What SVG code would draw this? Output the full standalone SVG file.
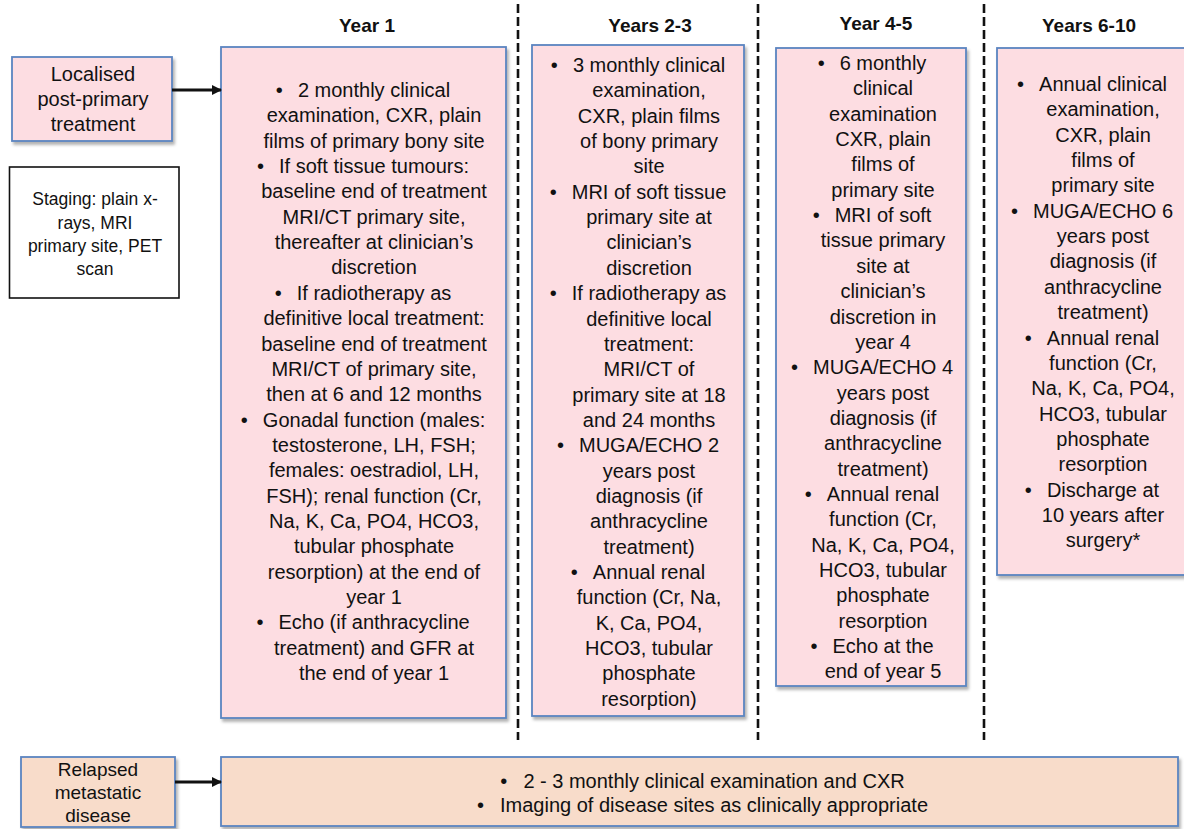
<svg xmlns="http://www.w3.org/2000/svg" width="1184" height="829" viewBox="0 0 1184 829">
<defs>
<style>
.t{font-family:"Liberation Sans",Arial,sans-serif;font-size:20px;fill:#111;text-anchor:middle}
.h{font-family:"Liberation Sans",Arial,sans-serif;font-size:19px;font-weight:bold;fill:#111;text-anchor:middle}
.s{font-family:"Liberation Sans",Arial,sans-serif;font-size:17.5px;fill:#111;text-anchor:middle}
.r{font-family:"Liberation Sans",Arial,sans-serif;font-size:19px;fill:#111;text-anchor:middle}
.pink{fill:#FDDDE2;stroke:#5B84C0;stroke-width:1.8;filter:url(#sh)}
.peach{fill:#F8DCCA;stroke:#5B84C0;stroke-width:1.8;filter:url(#sh)}
.dash{stroke:#111;stroke-width:2.6;stroke-dasharray:9 4;fill:none}
.arr{stroke:#111;stroke-width:3;fill:none;marker-end:url(#ah)}
</style>
<filter id="sh" x="-5%" y="-5%" width="115%" height="115%">
<feDropShadow dx="2" dy="3" stdDeviation="1.8" flood-color="#000" flood-opacity="0.3"/>
</filter>
<marker id="ah" viewBox="0 0 10 10" refX="9" refY="5" markerWidth="3.6" markerHeight="3.4" orient="auto" markerUnits="strokeWidth">
<path d="M0,0 L10,5 L0,10 Z" fill="#111"/>
</marker>
</defs>

<g id="dividers">
<line class="dash" x1="518" y1="4" x2="518" y2="740"/>
<line class="dash" x1="758" y1="4" x2="758" y2="740"/>
<line class="dash" x1="984" y1="4" x2="984" y2="740"/>
</g>

<g id="headings">
<text class="h" x="367" y="32">Year 1</text>
<text class="h" x="650" y="32">Years 2-3</text>
<text class="h" x="876" y="30">Year 4-5</text>
<text class="h" x="1089" y="32">Years 6-10</text>
</g>

<g id="localised">
<rect class="pink" x="12" y="57" width="160" height="84"/>
<text class="t"><tspan x="93" y="81">Localised</tspan><tspan x="93" y="106">post-primary</tspan><tspan x="93" y="131">treatment</tspan></text>
</g>

<g id="staging">
<rect x="9.5" y="167" width="169.5" height="131" fill="#fff" stroke="#111" stroke-width="1.6"/>
<text class="s"><tspan x="95" y="205">Staging: plain x-</tspan><tspan x="95" y="229">rays, MRI</tspan><tspan x="95" y="252">primary site, PET</tspan><tspan x="95" y="275">scan</tspan></text>
</g>

<g id="year1">
<rect class="pink" x="221" y="47" width="285" height="671"/>
<text class="t"><tspan x="374" y="97">•<tspan dx="15">2 monthly clinical</tspan><tspan dx="16.4">&#160;</tspan></tspan
><tspan x="374" dy="25.35">examination, CXR, plain</tspan
><tspan x="374" dy="25.35">films of primary bony site</tspan
><tspan x="374" dy="25.35">•<tspan dx="15">If soft tissue tumours:</tspan><tspan dx="16.4">&#160;</tspan></tspan
><tspan x="374" dy="25.35">baseline end of treatment</tspan
><tspan x="374" dy="25.35">MRI/CT primary site,</tspan
><tspan x="374" dy="25.35">thereafter at clinician’s</tspan
><tspan x="374" dy="25.35">discretion</tspan
><tspan x="374" dy="25.35">•<tspan dx="15">If radiotherapy as</tspan><tspan dx="16.4">&#160;</tspan></tspan
><tspan x="374" dy="25.35">definitive local treatment:</tspan
><tspan x="374" dy="25.35">baseline end of treatment</tspan
><tspan x="374" dy="25.35">MRI/CT of primary site,</tspan
><tspan x="374" dy="25.35">then at 6 and 12 months</tspan
><tspan x="374" dy="25.35">•<tspan dx="15">Gonadal function (males:</tspan><tspan dx="16.4">&#160;</tspan></tspan
><tspan x="374" dy="25.35">testosterone, LH, FSH;</tspan
><tspan x="374" dy="25.35">females: oestradiol, LH,</tspan
><tspan x="374" dy="25.35">FSH); renal function (Cr,</tspan
><tspan x="374" dy="25.35">Na, K, Ca, PO4, HCO3,</tspan
><tspan x="374" dy="25.35">tubular phosphate</tspan
><tspan x="374" dy="25.35">resorption) at the end of</tspan
><tspan x="374" dy="25.35">year 1</tspan
><tspan x="374" dy="25.35">•<tspan dx="15">Echo (if anthracycline</tspan><tspan dx="16.4">&#160;</tspan></tspan
><tspan x="374" dy="25.35">treatment) and GFR at</tspan
><tspan x="374" dy="25.35">the end of year 1</tspan></text>
</g>

<g id="years2-3">
<rect class="pink" x="532" y="45" width="212" height="671"/>
<text class="t"><tspan x="649" y="72">•<tspan dx="15">3 monthly clinical</tspan><tspan dx="16.4">&#160;</tspan></tspan
><tspan x="649" dy="25.35">examination,</tspan
><tspan x="649" dy="25.35">CXR, plain films</tspan
><tspan x="649" dy="25.35">of bony primary</tspan
><tspan x="649" dy="25.35">site</tspan
><tspan x="649" dy="25.35">•<tspan dx="15">MRI of soft tissue</tspan><tspan dx="16.4">&#160;</tspan></tspan
><tspan x="649" dy="25.35">primary site at</tspan
><tspan x="649" dy="25.35">clinician’s</tspan
><tspan x="649" dy="25.35">discretion</tspan
><tspan x="649" dy="25.35">•<tspan dx="15">If radiotherapy as</tspan><tspan dx="16.4">&#160;</tspan></tspan
><tspan x="649" dy="25.35">definitive local</tspan
><tspan x="649" dy="25.35">treatment:</tspan
><tspan x="649" dy="25.35">MRI/CT of</tspan
><tspan x="649" dy="25.35">primary site at 18</tspan
><tspan x="649" dy="25.35">and 24 months</tspan
><tspan x="649" dy="25.35">•<tspan dx="15">MUGA/ECHO 2</tspan><tspan dx="16.4">&#160;</tspan></tspan
><tspan x="649" dy="25.35">years post</tspan
><tspan x="649" dy="25.35">diagnosis (if</tspan
><tspan x="649" dy="25.35">anthracycline</tspan
><tspan x="649" dy="25.35">treatment)</tspan
><tspan x="649" dy="25.35">•<tspan dx="15">Annual renal</tspan><tspan dx="16.4">&#160;</tspan></tspan
><tspan x="649" dy="25.35">function (Cr, Na,</tspan
><tspan x="649" dy="25.35">K, Ca, PO4,</tspan
><tspan x="649" dy="25.35">HCO3, tubular</tspan
><tspan x="649" dy="25.35">phosphate</tspan
><tspan x="649" dy="25.35">resorption)</tspan></text>
</g>

<g id="year4-5">
<rect class="pink" x="776" y="48" width="190" height="638"/>
<text class="t"><tspan x="883" y="70">•<tspan dx="15">6 monthly</tspan><tspan dx="16.4">&#160;</tspan></tspan
><tspan x="883" dy="25.35">clinical</tspan
><tspan x="883" dy="25.35">examination</tspan
><tspan x="883" dy="25.35">CXR, plain</tspan
><tspan x="883" dy="25.35">films of</tspan
><tspan x="883" dy="25.35">primary site</tspan
><tspan x="883" dy="25.35">•<tspan dx="15">MRI of soft</tspan><tspan dx="16.4">&#160;</tspan></tspan
><tspan x="883" dy="25.35">tissue primary</tspan
><tspan x="883" dy="25.35">site at</tspan
><tspan x="883" dy="25.35">clinician’s</tspan
><tspan x="883" dy="25.35">discretion in</tspan
><tspan x="883" dy="25.35">year 4</tspan
><tspan x="883" dy="25.35">•<tspan dx="15">MUGA/ECHO 4</tspan><tspan dx="16.4">&#160;</tspan></tspan
><tspan x="883" dy="25.35">years post</tspan
><tspan x="883" dy="25.35">diagnosis (if</tspan
><tspan x="883" dy="25.35">anthracycline</tspan
><tspan x="883" dy="25.35">treatment)</tspan
><tspan x="883" dy="25.35">•<tspan dx="15">Annual renal</tspan><tspan dx="16.4">&#160;</tspan></tspan
><tspan x="883" dy="25.35">function (Cr,</tspan
><tspan x="883" dy="25.35">Na, K, Ca, PO4,</tspan
><tspan x="883" dy="25.35">HCO3, tubular</tspan
><tspan x="883" dy="25.35">phosphate</tspan
><tspan x="883" dy="25.35">resorption</tspan
><tspan x="883" dy="25.35">•<tspan dx="15">Echo at the</tspan><tspan dx="16.4">&#160;</tspan></tspan
><tspan x="883" dy="25.35">end of year 5</tspan></text>
</g>

<g id="years6-10">
<rect class="pink" x="997" y="48" width="195" height="527"/>
<text class="t"><tspan x="1103" y="91">•<tspan dx="15">Annual clinical</tspan><tspan dx="16.4">&#160;</tspan></tspan
><tspan x="1103" dy="25.35">examination,</tspan
><tspan x="1103" dy="25.35">CXR, plain</tspan
><tspan x="1103" dy="25.35">films of</tspan
><tspan x="1103" dy="25.35">primary site</tspan
><tspan x="1103" dy="25.35">•<tspan dx="15">MUGA/ECHO 6</tspan><tspan dx="16.4">&#160;</tspan></tspan
><tspan x="1103" dy="25.35">years post</tspan
><tspan x="1103" dy="25.35">diagnosis (if</tspan
><tspan x="1103" dy="25.35">anthracycline</tspan
><tspan x="1103" dy="25.35">treatment)</tspan
><tspan x="1103" dy="25.35">•<tspan dx="15">Annual renal</tspan><tspan dx="16.4">&#160;</tspan></tspan
><tspan x="1103" dy="25.35">function (Cr,</tspan
><tspan x="1103" dy="25.35">Na, K, Ca, PO4,</tspan
><tspan x="1103" dy="25.35">HCO3, tubular</tspan
><tspan x="1103" dy="25.35">phosphate</tspan
><tspan x="1103" dy="25.35">resorption</tspan
><tspan x="1103" dy="25.35">•<tspan dx="15">Discharge at</tspan><tspan dx="16.4">&#160;</tspan></tspan
><tspan x="1103" dy="25.35">10 years after</tspan
><tspan x="1103" dy="25.35">surgery*</tspan></text>
</g>

<g id="relapsed">
<rect class="peach" x="21" y="757" width="154" height="70"/>
<text class="r"><tspan x="98" y="776">Relapsed</tspan><tspan x="98" y="799">metastatic</tspan><tspan x="98" y="822">disease</tspan></text>
</g>

<g id="relapsed-plan">
<rect class="peach" x="221" y="757" width="957" height="69"/>
<text class="t"><tspan x="714" y="788">•<tspan dx="16">2 - 3 monthly clinical examination and CXR</tspan><tspan dx="17.4">&#160;</tspan></tspan
><tspan x="714" y="812">•<tspan dx="16">Imaging of disease sites as clinically appropriate</tspan><tspan dx="17.4">&#160;</tspan></tspan></text>
</g>

<g id="connectors">
<line class="arr" x1="172" y1="90" x2="221" y2="90"/>
<line class="arr" x1="175" y1="782" x2="221" y2="782"/>
</g>
</svg>
